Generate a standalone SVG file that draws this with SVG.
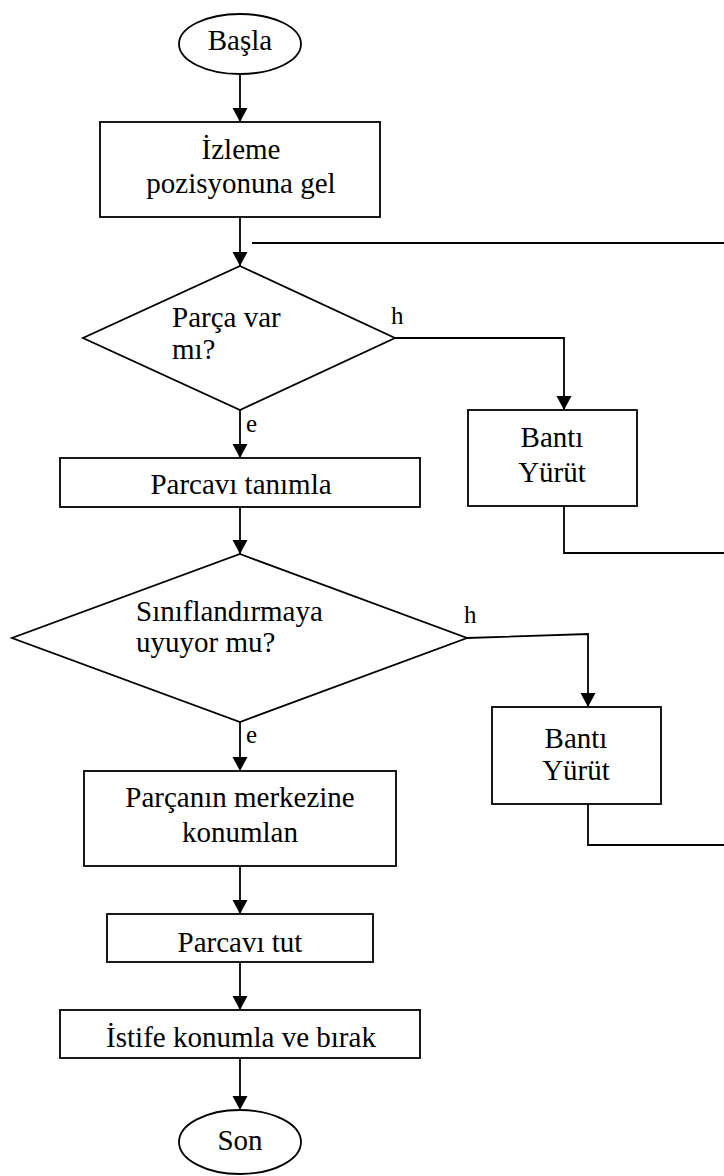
<svg xmlns="http://www.w3.org/2000/svg" width="724" height="1176" viewBox="0 0 724 1176">
  <style>
    .shape { fill: #ffffff; stroke: #000000; stroke-width: 1.8; }
    .line { fill: none; stroke: #000000; stroke-width: 1.8; }
    .txt { font-family: "Liberation Serif", "Times New Roman", serif; font-size: 29px; fill: #000000; }
    .mid { text-anchor: middle; }
    .lbl { font-family: "Liberation Serif", "Times New Roman", serif; font-size: 25px; fill: #000000; }
  </style>
  <defs>
    <marker id="arrow" markerUnits="userSpaceOnUse" markerWidth="16" markerHeight="16" viewBox="0 0 16 16" refX="14" refY="8" orient="auto">
      <path d="M0,0.5 L14,8 L0,15.5 Z" fill="#000000"/>
    </marker>
  </defs>

  <!-- connectors -->
  <g id="connectors">
    <line class="line" x1="240" y1="74" x2="240" y2="122" marker-end="url(#arrow)"/>
    <line class="line" x1="240" y1="217" x2="240" y2="266" marker-end="url(#arrow)"/>
    <polyline class="line" points="252,243 724,243"/>
    <polyline class="line" points="395,338 564,338 564,410" marker-end="url(#arrow)"/>
    <polyline class="line" points="564,506 564,553 724,553"/>
    <line class="line" x1="240" y1="410" x2="240" y2="458" marker-end="url(#arrow)"/>
    <line class="line" x1="240" y1="507" x2="240" y2="554" marker-end="url(#arrow)"/>
    <polyline class="line" points="467,638 588,634 588,707" marker-end="url(#arrow)"/>
    <polyline class="line" points="588,804 588,845 724,845"/>
    <line class="line" x1="240" y1="722" x2="240" y2="771" marker-end="url(#arrow)"/>
    <line class="line" x1="240" y1="866" x2="240" y2="914" marker-end="url(#arrow)"/>
    <line class="line" x1="240" y1="962" x2="240" y2="1010" marker-end="url(#arrow)"/>
    <line class="line" x1="240" y1="1058" x2="240" y2="1110" marker-end="url(#arrow)"/>
    <text class="lbl" x="391" y="324">h</text>
    <text class="lbl" x="246" y="432">e</text>
    <text class="lbl" x="464" y="623">h</text>
    <text class="lbl" x="246" y="743">e</text>
  </g>

  <g id="start">
    <ellipse class="shape" cx="240" cy="44" rx="61" ry="30"/>
    <text class="txt mid" x="240" y="50">Başla</text>
  </g>

  <g id="watch-position">
    <rect class="shape" x="100" y="122" width="280" height="95"/>
    <text class="txt mid" x="241" y="159">İzleme</text>
    <text class="txt mid" x="241" y="193">pozisyonuna gel</text>
  </g>

  <g id="part-present">
    <polygon class="shape" points="240,266 395,338 240,410 83,338"/>
    <text class="txt" x="172" y="327">Parça var</text>
    <text class="txt" x="172" y="359">mı?</text>
  </g>

  <g id="run-belt-1">
    <rect class="shape" x="468" y="410" width="169" height="96"/>
    <text class="txt mid" x="552" y="447">Bantı</text>
    <text class="txt mid" x="552" y="482">Yürüt</text>
  </g>

  <g id="identify-part">
    <rect class="shape" x="60" y="458" width="360" height="49"/>
    <text class="txt mid" x="241" y="494">Parcavı tanımla</text>
  </g>

  <g id="classification">
    <polygon class="shape" points="240,554 467,638 240,722 12,638"/>
    <text class="txt" x="136" y="621">Sınıflandırmaya</text>
    <text class="txt" x="136" y="652">uyuyor mu?</text>
  </g>

  <g id="run-belt-2">
    <rect class="shape" x="492" y="707" width="169" height="97"/>
    <text class="txt mid" x="576" y="748">Bantı</text>
    <text class="txt mid" x="576" y="780">Yürüt</text>
  </g>

  <g id="center-on-part">
    <rect class="shape" x="84" y="771" width="312" height="95"/>
    <text class="txt mid" x="240" y="807">Parçanın merkezine</text>
    <text class="txt mid" x="240" y="842">konumlan</text>
  </g>

  <g id="grip-part">
    <rect class="shape" x="107" y="914" width="266" height="48"/>
    <text class="txt mid" x="240" y="952">Parcavı tut</text>
  </g>

  <g id="stack-release">
    <rect class="shape" x="60" y="1010" width="360" height="48"/>
    <text class="txt mid" x="241" y="1047">İstife konumla ve bırak</text>
  </g>

  <g id="end">
    <ellipse class="shape" cx="240" cy="1142" rx="61" ry="32"/>
    <text class="txt mid" x="240" y="1150">Son</text>
  </g>
</svg>
